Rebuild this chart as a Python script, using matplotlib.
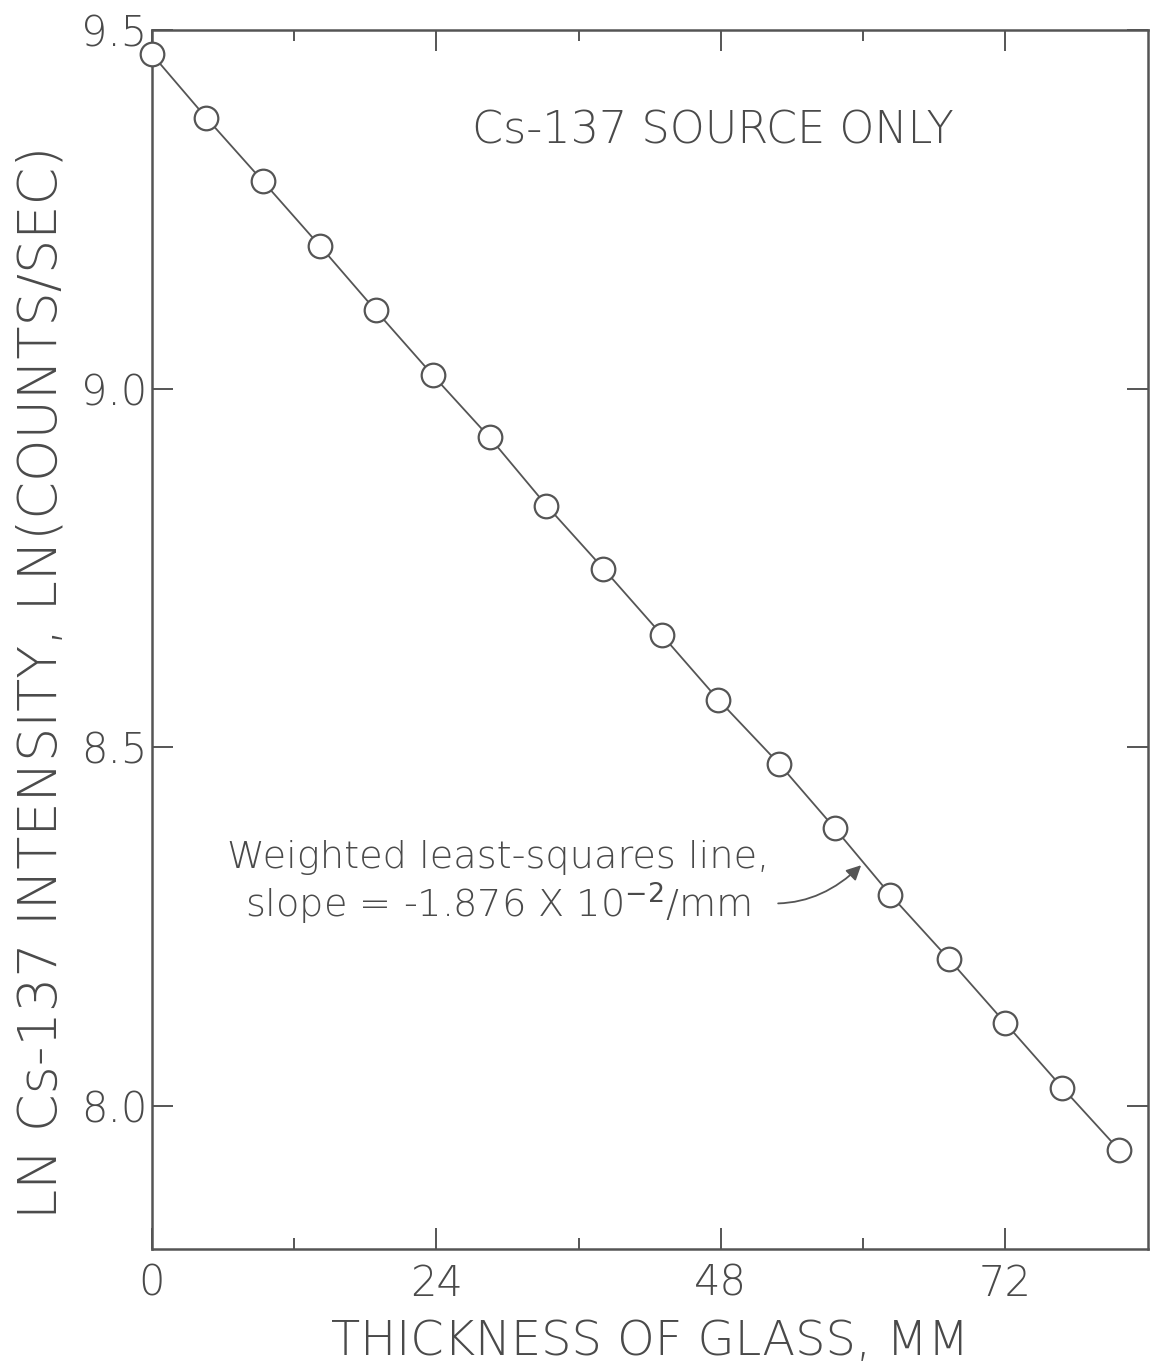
import matplotlib
matplotlib.use("Agg")
import matplotlib.pyplot as plt
from matplotlib.ticker import FixedLocator

# ---- data ----
thickness_mm = [0.0, 4.6, 9.4, 14.2, 18.9, 23.7, 28.5, 33.3, 38.1,
                43.0, 47.8, 52.9, 57.6, 62.3, 67.2, 72.0, 76.8, 81.6]
ln_intensity = [9.467, 9.378, 9.289, 9.199, 9.109, 9.019, 8.932, 8.837, 8.749,
                8.657, 8.566, 8.477, 8.387, 8.294, 8.205, 8.115, 8.025, 7.938]

x_major = [0, 24, 48, 72]
x_minor = [12, 36, 60]
x_ticklabels = ["0", "24", "48", "72"]
y_major = [8.0, 8.5, 9.0, 9.5]
y_ticklabels = ["8.0", "8.5", "9.0", "9.5"]

title_text = "Cs-137 SOURCE ONLY"
fit_text = "Weighted least-squares line,\nslope = -1.876 X 10$^{-2}$/mm"
xlabel = "THICKNESS OF GLASS, MM"
ylabel = "LN Cs-137 INTENSITY, LN(COUNTS/SEC)"

# ---- styling ----
INK = "#555555"
TXT = "#4a4a4a"
plt.rcParams['font.family'] = ['DejaVu Sans']
plt.rcParams['mathtext.fontset'] = 'dejavusans'

fig = plt.figure(figsize=(11.57, 13.70), dpi=100)
ax = fig.add_axes([0.131, 0.0883, 0.861, 0.8897])

ax.plot(thickness_mm, ln_intensity, color=INK, lw=1.3, zorder=2)
ax.plot(thickness_mm, ln_intensity, linestyle='none', marker='o', ms=17,
        mfc='white', mec=INK, mew=1.6, zorder=3, clip_on=False)

ax.set_xlim(0, 84)
ax.set_ylim(7.8, 9.5)

for s in ax.spines.values():
    s.set_color(INK)
    s.set_linewidth(1.8)

ax.xaxis.set_major_locator(FixedLocator(x_major))
ax.xaxis.set_minor_locator(FixedLocator(x_minor))
ax.set_xticklabels(x_ticklabels)
ax.yaxis.set_major_locator(FixedLocator(y_major))
ax.set_yticklabels(y_ticklabels)

ax.tick_params(axis='both', which='major', direction='in', length=15, width=1.4,
               color=INK, labelcolor=TXT, labelsize=30)
ax.tick_params(axis='both', which='minor', direction='in', length=8, width=1.4,
               color=INK)
ax.tick_params(axis='x', which='both', top=True, bottom=True, pad=10)
ax.tick_params(axis='y', which='both', left=True, right=True, pad=3)
ax.tick_params(axis='y', which='major', labelright=False)
for lab in ax.get_xticklabels() + ax.get_yticklabels():
    lab.set_fontweight('light')

ax.set_xlabel(xlabel, fontsize=34.5, color=TXT, labelpad=10, fontweight='light')
ax.set_ylabel(ylabel, fontsize=39, color=TXT, fontweight='light',
              va='center', ha='center')
ax.yaxis.set_label_coords(-0.11, 0.465)

ax.text(47.3, 9.36, title_text, ha='center', va='center', fontsize=32, color=TXT,
        fontweight='light')

ax.text(29.2, 8.31, fit_text, ha='center', va='center', fontsize=27.5, color=TXT,
        linespacing=1.15, fontweight='light')

ax.annotate("", xy=(60.0, 8.338), xytext=(52.6, 8.282),
            arrowprops=dict(arrowstyle='-|>', color=INK, lw=1.3,
                            mutation_scale=22,
                            connectionstyle='angle3,angleA=0,angleB=45'))

fig.savefig("out.png", dpi=100, facecolor='white')
